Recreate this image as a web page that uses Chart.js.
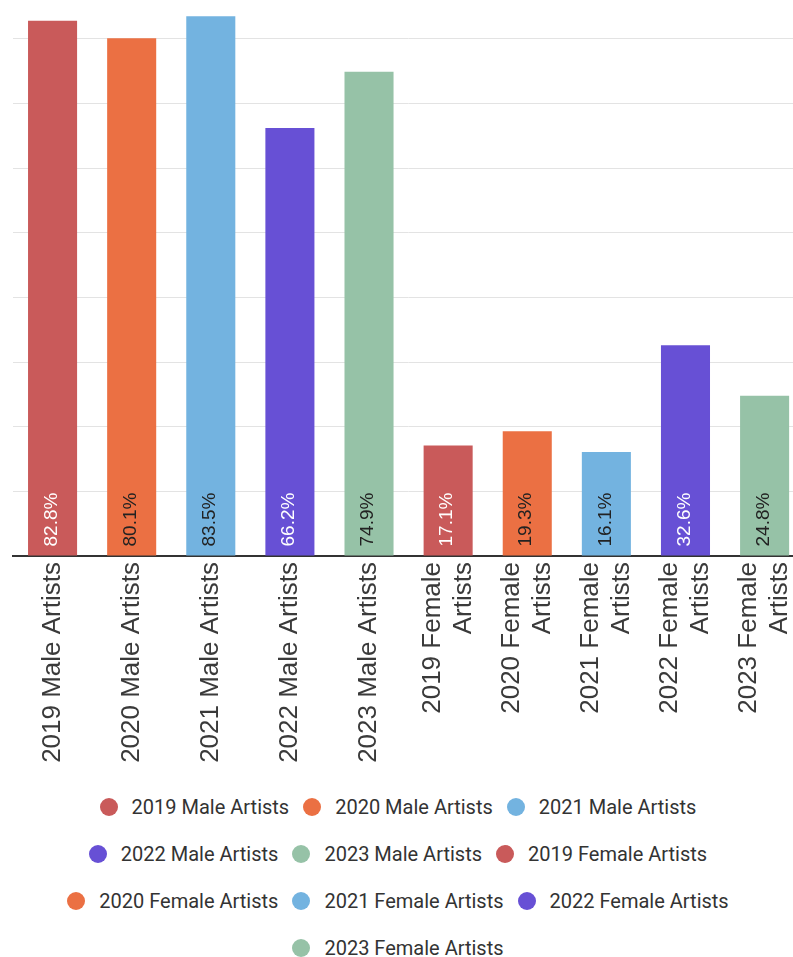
<!DOCTYPE html>
<html>
<head>
<meta charset="utf-8">
<script src="https://cdn.jsdelivr.net/npm/chart.js@4.4.0/dist/chart.umd.min.js"></script>
<style>
  html, body { margin: 0; padding: 0; background: #fff; overflow: hidden; width: 793px; height: 957px; }
  #wrap { position: absolute; left: 0; top: 0; width: 833px; height: 771px; }
  #legend { position: absolute; left: 58px; top: 783px; width: 680px; display: flex; flex-wrap: wrap;
            justify-content: center; font: 20px Roboto, sans-serif; color: #333; }
  .item { display: flex; align-items: center; height: 47px; margin: 0 7px; white-space: nowrap; }
  .dot { width: 18px; height: 18px; border-radius: 50%; margin-right: 14px; }
</style>
</head>
<body>
<div id="wrap"><canvas id="chart" width="833" height="771"></canvas></div>
<div id="legend"></div>
<script>
'use strict';

// --- data ---
const categories = [
  '2019 Male Artists', '2020 Male Artists', '2021 Male Artists', '2022 Male Artists', '2023 Male Artists',
  '2019 Female Artists', '2020 Female Artists', '2021 Female Artists', '2022 Female Artists', '2023 Female Artists'
];
const tickLines = [
  '2019 Male Artists', '2020 Male Artists', '2021 Male Artists', '2022 Male Artists', '2023 Male Artists',
  ['2019 Female', 'Artists'], ['2020 Female', 'Artists'], ['2021 Female', 'Artists'],
  ['2022 Female', 'Artists'], ['2023 Female', 'Artists']
];
const shares = [82.8, 80.1, 83.5, 66.2, 74.9, 17.1, 19.3, 16.1, 32.6, 24.8];

const barColors = ['#C95A5A', '#EB7043', '#73B3E0', '#6750D5', '#96C2A7',
                   '#C95A5A', '#EB7043', '#73B3E0', '#6750D5', '#96C2A7'];
const valueTextColors = ['#fff', '#222', '#222', '#fff', '#222',
                         '#fff', '#222', '#222', '#fff', '#222'];

const TICK_SIZE = 26;

// value text written upward from the bottom of each bar
const barValueLabels = {
  id: 'barValueLabels',
  afterDatasetsDraw(chart) {
    const ctx = chart.ctx;
    const meta = chart.getDatasetMeta(0);
    ctx.save();
    ctx.font = '19px "Liberation Sans", Arial, sans-serif';
    ctx.textAlign = 'left';
    ctx.textBaseline = 'middle';
    meta.data.forEach((bar, i) => {
      ctx.save();
      ctx.translate(bar.x - 1, bar.base - 9);
      ctx.rotate(-Math.PI / 2);
      ctx.fillStyle = valueTextColors[i];
      ctx.fillText(shares[i].toFixed(1) + '%', 0, 0);
      ctx.restore();
    });
    ctx.restore();
  }
};

// chart.js leaves rotated two-line labels off centre; pull them back by half a line
const centerMultiline = {
  id: 'centerMultiline',
  beforeDraw(chart) {
    const items = chart.scales.x.getLabelItems();
    items.forEach(it => {
      if (Array.isArray(it.label) && !it._centered) {
        it.options.translation[0] -= (it.label.length - 1) * TICK_SIZE * 1.2 / 2;
        it._centered = true;
      }
    });
  }
};

new Chart(document.getElementById('chart').getContext('2d'), {
  type: 'bar',
  data: {
    labels: tickLines,
    datasets: [{
      data: shares,
      backgroundColor: barColors,
      borderWidth: 0,
      barPercentage: 0.62,
      categoryPercentage: 1
    }]
  },
  options: {
    responsive: false,
    animation: false,
    layout: { padding: 0 },
    plugins: { legend: { display: false }, tooltip: { enabled: false } },
    scales: {
      x: {
        grid: { display: false, drawTicks: false },
        border: { color: '#333', width: 2 },
        ticks: { color: '#3a3a3a', font: { family: '"Liberation Sans", Arial, sans-serif', size: TICK_SIZE },
                 minRotation: 90, maxRotation: 90, autoSkip: false, padding: 6 },
        afterFit(s) { s.height = 215; }
      },
      y: {
        min: 0, max: 86,
        ticks: { display: false, stepSize: 10 },
        grid: { color: '#e3e3e3', drawTicks: false },
        border: { display: false },
        afterBuildTicks(s) { s.ticks = s.ticks.filter(t => t.value % 10 === 0); },
        afterFit(s) { s.width = 13; }
      }
    }
  },
  plugins: [barValueLabels, centerMultiline]
});

// legend
const legend = document.getElementById('legend');
categories.forEach((name, i) => {
  const item = document.createElement('div');
  item.className = 'item';
  const dot = document.createElement('span');
  dot.className = 'dot';
  dot.style.background = barColors[i];
  const txt = document.createElement('span');
  txt.textContent = name;
  item.appendChild(dot);
  item.appendChild(txt);
  legend.appendChild(item);
});
</script>
</body>
</html>
